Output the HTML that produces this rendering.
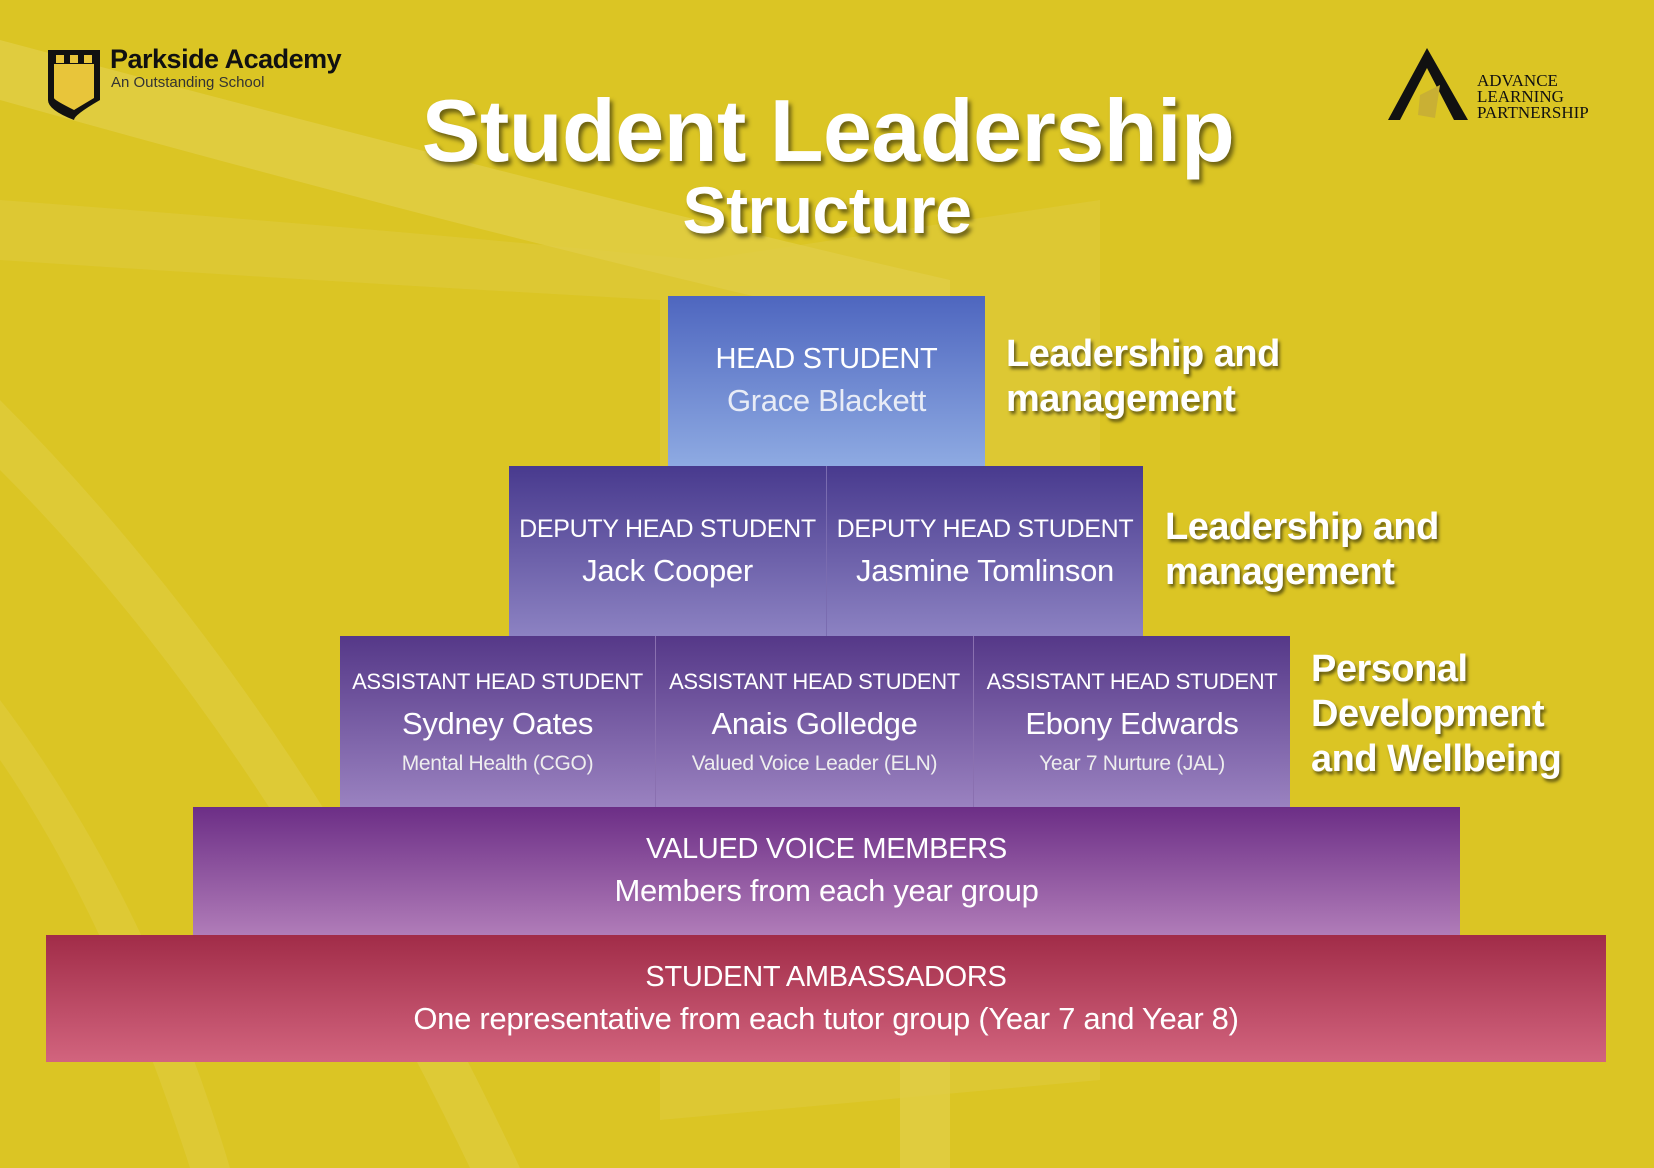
<!DOCTYPE html>
<html><head><meta charset="utf-8"><style>
*{margin:0;padding:0;box-sizing:border-box}
body{width:1654px;height:1168px;overflow:hidden;background:#dbc524;font-family:"Liberation Sans",sans-serif;position:relative}
.a{position:absolute}
.box{position:absolute;color:#fff;text-align:center;display:flex;flex-direction:column;justify-content:center;align-items:center;letter-spacing:-0.3px}
.t{font-size:26px;line-height:40px}
.n{font-size:31px;line-height:44px}
.r{font-size:21px;line-height:36px;color:#eee}
.lab{position:absolute;color:#fff;font-size:38px;font-weight:bold;line-height:45px;text-shadow:2px 3px 3px rgba(0,0,0,.55);letter-spacing:-0.5px}
</style></head><body>
<svg class="a" style="left:0;top:0" width="1654" height="1168">
<path d="M0 40 Q600 200 950 280 L950 1168 L900 1168 L900 330 Q500 240 0 100Z" fill="#e2d150" opacity=".6"/>
<path d="M0 200 Q400 230 700 260 L1100 200 L1100 1080 L660 1120 L660 300 Q300 280 0 260Z" fill="#e0cd48" opacity=".45"/>
<path d="M0 400 Q300 700 520 1168 L470 1168 Q260 730 0 470Z" fill="#e4d458" opacity=".35"/>
<path d="M0 700 Q150 900 230 1168 L190 1168 Q110 920 0 760Z" fill="#e4d458" opacity=".3"/>
<path d="M48 50 L100 50 L100 100 Q74 115 74 120 Q48 110 48 100Z" fill="#111"/>
<path d="M54 64 L94 64 L94 98 Q74 110 74 110 Q54 100 54 98Z" fill="#e8c53a"/>
<rect x="56" y="55" width="8" height="8" fill="#e8c53a"/><rect x="70" y="55" width="8" height="8" fill="#e8c53a"/><rect x="84" y="55" width="8" height="8" fill="#e8c53a"/>
<path d="M1427 48 L1388 120 L1400 120 L1427 68 L1454 120 L1468 120Z" fill="#111"/>
<path d="M1420 95 L1440 85 L1435 118 L1418 115Z" fill="#c9b034"/>
</svg>
<div class="a" style="left:110px;top:44px;font-size:27px;font-weight:bold;color:#111;letter-spacing:-0.5px">Parkside Academy</div>
<div class="a" style="left:111px;top:74px;font-size:15px;color:#333">An Outstanding School</div>
<div class="a" style="left:1477px;top:73px;font-family:'Liberation Serif',serif;font-size:17px;line-height:16px;color:#111">ADVANCE<br>LEARNING<br>PARTNERSHIP</div>
<div class="a" style="left:0;width:1654px;text-align:center;top:80px;font-size:88px;font-weight:bold;color:#fff;text-shadow:3px 4px 4px rgba(0,0,0,.5);letter-spacing:-0.5px;padding-left:2px">Student Leadership</div>
<div class="a" style="left:0;width:1654px;text-align:center;top:172px;font-size:66px;font-weight:bold;color:#fff;text-shadow:3px 4px 4px rgba(0,0,0,.5);letter-spacing:-0.5px">Structure</div>

<div class="box" style="left:668px;top:296px;width:317px;height:170px;background:linear-gradient(#4e66bf,#8eaae2)"><div class="t" style="font-size:29px">HEAD STUDENT</div><div class="n" style="color:#e8ecf6">Grace Blackett</div></div>

<div class="box" style="left:509px;top:466px;width:318px;height:170px;background:linear-gradient(#483a8e,#8c82c2);border-right:1px solid #7a6cb0"><div class="t" style="font-size:25px">DEPUTY HEAD STUDENT</div><div class="n">Jack Cooper</div></div>
<div class="box" style="left:827px;top:466px;width:316px;height:170px;background:linear-gradient(#483a8e,#8c82c2)"><div class="t" style="font-size:25px">DEPUTY HEAD STUDENT</div><div class="n">Jasmine Tomlinson</div></div>

<div class="box" style="left:340px;top:636px;width:316px;height:171px;background:linear-gradient(#553888,#9a82c0);border-right:1px solid #8a70b0"><div class="t" style="font-size:22px">ASSISTANT HEAD STUDENT</div><div class="n">Sydney Oates</div><div class="r">Mental Health (CGO)</div></div>
<div class="box" style="left:656px;top:636px;width:318px;height:171px;background:linear-gradient(#553888,#9a82c0);border-right:1px solid #8a70b0"><div class="t" style="font-size:22px">ASSISTANT HEAD STUDENT</div><div class="n">Anais Golledge</div><div class="r">Valued Voice Leader (ELN)</div></div>
<div class="box" style="left:974px;top:636px;width:316px;height:171px;background:linear-gradient(#553888,#9a82c0)"><div class="t" style="font-size:22px">ASSISTANT HEAD STUDENT</div><div class="n">Ebony Edwards</div><div class="r">Year 7 Nurture (JAL)</div></div>

<div class="box" style="left:193px;top:807px;width:1267px;height:128px;background:linear-gradient(#6c2e86,#b07cb8)"><div class="t" style="font-size:29px">VALUED VOICE MEMBERS</div><div class="n">Members from each year group</div></div>
<div class="box" style="left:46px;top:935px;width:1560px;height:127px;background:linear-gradient(#a12c48,#d2647e)"><div class="t" style="font-size:29px">STUDENT AMBASSADORS</div><div class="n">One representative from each tutor group (Year 7 and Year 8)</div></div>

<div class="lab" style="left:1006px;top:332px">Leadership and<br>management</div>
<div class="lab" style="left:1165px;top:505px">Leadership and<br>management</div>
<div class="lab" style="left:1311px;top:647px">Personal<br>Development<br>and Wellbeing</div>
</body></html>
